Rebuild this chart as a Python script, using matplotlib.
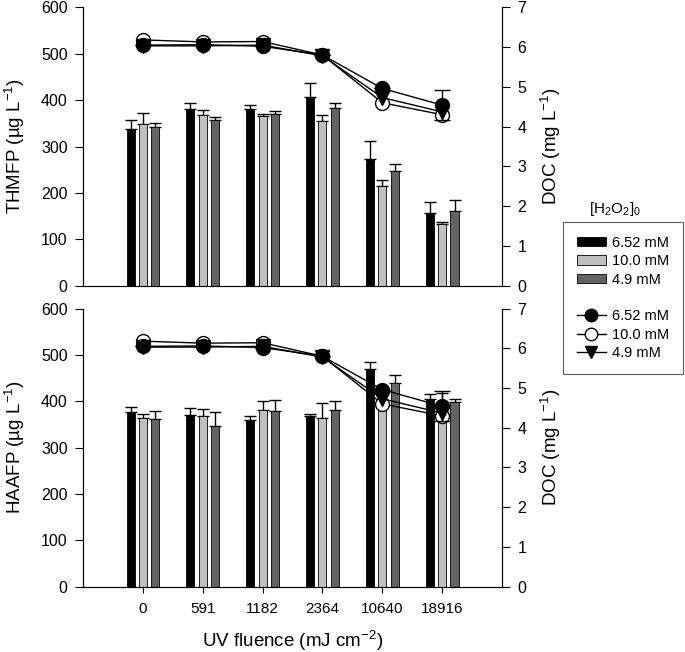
import numpy as np
import matplotlib
matplotlib.use("Agg")
import matplotlib.pyplot as plt
from matplotlib.patches import Patch
from matplotlib.lines import Line2D

plt.rcParams['font.family'] = ['Liberation Sans', 'DejaVu Sans']
plt.rcParams['mathtext.fontset'] = 'custom'
plt.rcParams['mathtext.rm'] = 'Liberation Sans'
plt.rcParams['mathtext.it'] = 'Liberation Sans:italic'

# data
fluence = ["0", "591", "1182", "2364", "10640", "18916"]
doses = ["6.52 mM", "10.0 mM", "4.9 mM"]

# THMFP bars (ug/L) and upper error
thm_652 = [338, 381, 381, 406, 272, 157]
thm_652_err = [20, 13, 9, 31, 40, 24]
thm_100 = [349, 367, 365, 356, 214, 134]
thm_100_err = [23, 11, 4, 12, 13, 4]
thm_49 = [343, 358, 369, 384, 247, 161]
thm_49_err = [7, 6, 7, 10, 16, 23]

# HAAFP bars (ug/L) and upper error
haa_652 = [376, 370, 360, 368, 470, 406]
haa_652_err = [11, 16, 8, 5, 15, 9]
haa_100 = [364, 368, 381, 364, 412, 395]
haa_100_err = [9, 15, 20, 32, 18, 22]
haa_49 = [361, 347, 379, 381, 440, 399]
haa_49_err = [18, 30, 24, 20, 16, 6]

# DOC (mg/L), same in both panels
doc_652 = [6.05, 6.06, 6.02, 5.80, 4.96, 4.54]
doc_652_err = [0, 0, 0, 0, 0, 0.38]
doc_100 = [6.18, 6.13, 6.14, 5.80, 4.60, 4.30]
doc_49 = [6.03, 6.03, 6.05, 5.78, 4.73, 4.37]

bar_colors = ["black", "#c0c0c0", "#636363"]
x = np.arange(len(fluence))
off = 0.206
w = 0.134

fig = plt.figure(figsize=(6.85, 6.52), dpi=100)
ax1 = fig.add_axes([0.1212, 0.5618, 0.6117, 0.427])
ax2 = fig.add_axes([0.1212, 0.1002, 0.6117, 0.4265])

def panel(ax, bars, errs, ylabel, show_x):
    for i, (vals, e) in enumerate(zip(bars, errs)):
        xs = x + (i - 1) * off
        ax.bar(xs, vals, width=w, color=bar_colors[i], edgecolor="black", linewidth=0.6, zorder=2)
        ax.errorbar(xs, vals, yerr=[np.zeros(len(e)), e], fmt="none", ecolor="black",
                    elinewidth=1, capsize=4.3, capthick=1, zorder=1)
    ax.set_xlim(-1, 6)
    ax.set_ylim(0, 600)
    ax.set_yticks(range(0, 601, 100))
    ax.set_ylabel(ylabel, fontsize=13.5, labelpad=10)
    ax.spines["top"].set_visible(False)
    ax.tick_params(axis="y", direction="out", length=6, labelsize=11.5, pad=5)
    if show_x:
        ax.set_xticks(x)
        ax.set_xticklabels(fluence)
        ax.tick_params(axis="x", direction="out", length=4, labelsize=11, pad=7)
    else:
        ax.set_xticks([])
        ax.spines["bottom"].set_color("#888888")

    tw = ax.twinx()
    tw.plot(x, doc_100, "-o", color="black", mfc="white", mec="black", ms=10, lw=1, zorder=3)
    tw.errorbar(x, doc_652, yerr=doc_652_err, fmt="-o", color="black", mfc="black", ms=10,
                lw=1, elinewidth=1, capsize=6, zorder=4)
    tw.plot(x, doc_49, "-v", color="black", mfc="black", ms=10, lw=1, zorder=5)
    tw.set_ylim(0, 7)
    tw.set_yticks(range(0, 8))
    tw.set_xlim(-1, 6)
    tw.spines["top"].set_visible(False)
    tw.tick_params(axis="y", direction="out", length=6, labelsize=11.5, pad=5)
    tw.set_ylabel("DOC (mg L$^{\\mathrm{-1}}$)", fontsize=13.5, labelpad=9)

panel(ax1, [thm_652, thm_100, thm_49], [thm_652_err, thm_100_err, thm_49_err],
      "THMFP (\u00b5g L$^{\\mathrm{-1}}$)", False)
panel(ax2, [haa_652, haa_100, haa_49], [haa_652_err, haa_100_err, haa_49_err],
      "HAAFP (\u00b5g L$^{\\mathrm{-1}}$)", True)
ax2.set_xlabel("UV fluence (mJ cm$^{\\mathrm{-2}}$)", fontsize=13.5, labelpad=9)

# legend
handles = [Patch(facecolor=c, edgecolor="black", linewidth=0.6) for c in bar_colors]
handles.append(Line2D([], [], color="none"))
handles.append(Line2D([], [], color="black", marker="o", mfc="black", ms=9, lw=1))
handles.append(Line2D([], [], color="black", marker="o", mfc="white", ms=9, lw=1))
handles.append(Line2D([], [], color="black", marker="v", mfc="black", ms=9, lw=1))
labels = doses + [""] + doses
leg = fig.legend(handles, labels, loc="upper left", bbox_to_anchor=(0.8215, 0.6595),
                 borderaxespad=0, fontsize=10.5, frameon=True, fancybox=False,
                 edgecolor="#333333", handlelength=2.0, handleheight=0.6,
                 labelspacing=0.3, borderpad=0.95, handletextpad=0.4)
leg.get_frame().set_linewidth(0.8)
fig.text(0.898, 0.679, "[H$_2$O$_2$]$_0$", fontsize=11, ha="center", va="center")

fig.savefig("out.png", dpi=100)
